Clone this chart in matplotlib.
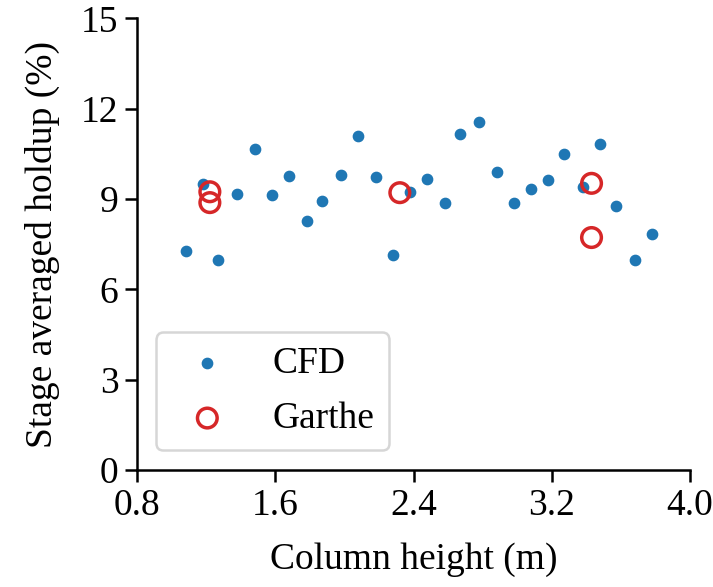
import matplotlib
matplotlib.use('Agg')
import matplotlib.pyplot as plt

# CFD stage-averaged holdup along the column
cfd_height = [1.08, 1.18, 1.27, 1.38, 1.48, 1.58, 1.68, 1.78, 1.87, 1.98,
              2.08, 2.18, 2.28, 2.38, 2.48, 2.58, 2.67, 2.78, 2.88, 2.98,
              3.08, 3.18, 3.27, 3.38, 3.48, 3.57, 3.68, 3.78]
cfd_holdup = [7.27, 9.49, 6.97, 9.16, 10.66, 9.12, 9.76, 8.28, 8.94, 9.80,
              11.08, 9.73, 7.15, 9.23, 9.65, 8.87, 11.15, 11.57, 9.91, 8.88,
              9.32, 9.62, 10.50, 9.39, 10.83, 8.77, 6.96, 7.83]

# Garthe measurements
garthe_height = [1.22, 1.22, 2.32, 3.43, 3.43]
garthe_holdup = [9.24, 8.88, 9.21, 9.52, 7.72]

x_ticks = [0.8, 1.6, 2.4, 3.2, 4.0]
y_ticks = [0, 3, 6, 9, 12, 15]

plt.rcParams['font.family'] = ['Liberation Serif', 'DejaVu Serif']
plt.rcParams['font.size'] = 27

fig = plt.figure(figsize=(7.13, 5.87), dpi=100)
ax = fig.add_axes([0.1926, 0.1993, 0.7751, 0.7695])

ax.scatter(cfd_height, cfd_holdup, s=55, color='#1f77b4', label='CFD', zorder=2)
ax.scatter(garthe_height, garthe_holdup, s=200, facecolors='none',
           edgecolors='#d62728', linewidths=2.5, label='Garthe', zorder=3)

ax.set_xlim(0.8, 4.0)
ax.set_ylim(0, 15)
ax.set_xticks(x_ticks)
ax.set_xticklabels(['%.1f' % t for t in x_ticks])
ax.set_yticks(y_ticks)

for side in ['top', 'right']:
    ax.spines[side].set_visible(False)
for side in ['left', 'bottom']:
    ax.spines[side].set_linewidth(1.8)
ax.tick_params(axis='both', length=8.5, width=1.8, labelsize=27, pad=5)

ax.set_xlabel('Column height (m)', fontsize=27, labelpad=14)
ax.set_ylabel('Stage averaged holdup (%)', fontsize=27, labelpad=15)

leg = ax.legend(loc='lower left', scatterpoints=1, fontsize=27,
                borderpad=0.38, handletextpad=0.75, labelspacing=0.55,
                borderaxespad=0, bbox_to_anchor=(0.033, 0.044))
leg.get_frame().set_linewidth(1.8)

fig.savefig('out.png', dpi=100)
